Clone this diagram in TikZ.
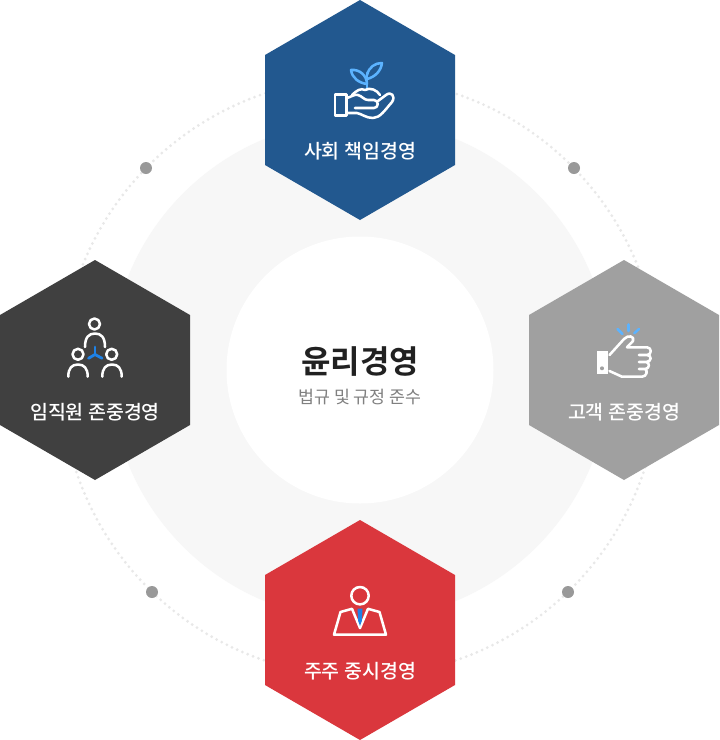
\documentclass[tikz,border=0pt]{standalone}
\usepackage{fontspec}
\setmainfont{Noto Sans CJK KR}[BoldFont={Noto Sans CJK KR Bold}]
\newfontfamily\medfont{Noto Sans CJK KR Medium}
\definecolor{hexblue}{HTML}{22588F}
\definecolor{hexdark}{HTML}{404040}
\definecolor{hexgray}{HTML}{A0A0A0}
\definecolor{hexred}{HTML}{DA373D}
\definecolor{accent}{HTML}{5CB3FF}
\definecolor{tiebl}{HTML}{1E82E6}
\tikzset{
  hexa/.style={fill=#1,draw=none},
  lab/.style={text=white,font=\medfont\fontsize{14.6}{16}\selectfont,inner sep=0pt,anchor=center},
  ico/.style={draw=white,line width=1.9pt,line join=round,line cap=round,fill=none},
  acc/.style={draw=accent,line width=1.9pt,line join=round,line cap=round,fill=none},
  bead/.style={fill=black!40,draw=none}
}
\begin{document}
\begin{tikzpicture}[x=0.75pt,y=-0.75pt]
\useasboundingbox (0,0) rectangle (720,740);
\fill[white] (0,0) rectangle (720,740);
% discs and dotted ring
\fill[black!3] (360,370) circle (250);
\draw[draw=black!9,line width=2.3pt,line cap=round,dash pattern=on 0pt off 4.3pt] (360,377) circle (299);
\fill[white] (360,370) circle (133.5);
\foreach \p in {(146,168),(574,168),(152,592),(568,592)} \fill[bead] \p circle (6);
% hexagons
\foreach \cx/\cy/\c in {360/110/hexblue,95/370/hexdark,624/370/hexgray,360/630/hexred}
  \fill[hexa=\c] (\cx,\cy-110) -- (\cx+95,\cy-55) -- (\cx+95,\cy+55) -- (\cx,\cy+110) -- (\cx-95,\cy+55) -- (\cx-95,\cy-55) -- cycle;
% centre text
\node[inner sep=0pt,text=black!87,font=\fontsize{24}{26}\bfseries\selectfont] (title) at (360,362) {윤리경영};
\node[inner sep=0pt,text=black!50,font=\fontsize{13}{16}\selectfont] (subtitle) at (360,397) {법규 및 규정 준수};
% labels
\node[lab] (top) at (360,151) {사회 책임경영};
\node[lab] (left) at (95,412) {임직원 존중경영};
\node[lab] (right) at (624,412) {고객 존중경영};
\node[lab] (bottom) at (360,671) {주주 중시경영};
% plant in hand
\draw[acc] (367,88) -- (367,73);
\draw[acc] (367,84) .. controls (367,76) and (360,69) .. (351,70) .. controls (352,78) and (359,83) .. (367,84) -- cycle;
\draw[acc] (367,75) .. controls (369,67) and (375,63) .. (382,63) .. controls (381,71) and (375,77) .. (367,79);
\draw[ico] (335,94.5) rectangle (346.5,115.5);
\draw[ico] (347,98) .. controls (351,97) and (354,94) .. (358,95) .. controls (362,96) and (364,100) .. (368,100) -- (374,100) .. controls (379,100) and (379,108) .. (374,108) -- (355,108);
\draw[ico] (352,95) .. controls (357,90) and (361,88) .. (365,90) .. controls (370,87) and (377,90) .. (380,95);
\draw[ico] (347,113) -- (357,113) .. controls (362,114) and (366,118) .. (373,118) .. controls (380,118) and (385,110) .. (392,102) .. controls (396,96) and (391,91) .. (386,95) -- (378,101);
% people
\foreach \x/\y/\r in {94.5/324/5.5,78/354.3/5.5,111.7/354.3/5.5}{
  \draw[ico] (\x,\y) circle (\r);
}
\draw[ico] (85,347) .. controls (85,337) and (89,333.5) .. (95,333.5) .. controls (101,333.5) and (105,337) .. (105,347);
\draw[ico] (68.3,376.7) .. controls (68.3,368) and (72,364.5) .. (78,364.5) .. controls (84,364.5) and (87.7,368) .. (87.7,376.7);
\draw[ico] (102.3,376.7) .. controls (102.3,368) and (106,364.5) .. (112,364.5) .. controls (118,364.5) and (121.7,368) .. (121.7,376.7);
\coordinate (hub) at (95,354.5);
\draw[draw=tiebl,line width=2.1pt,line cap=round] (hub) -- (95,347);
\draw[draw=tiebl,line width=2.1pt,line cap=round] (hub) -- (88.5,358.3);
\draw[draw=tiebl,line width=2.1pt,line cap=round] (hub) -- (102,358.3);
% thumb
\fill[white] (596.7,350.7) rectangle (608.3,374.3);
\fill[hexgray] (602,368.3) circle (2);
\draw[ico] (609.5,355) -- (624,339) .. controls (628,334.5) and (635,336) .. (633,341) -- (627,347.3) -- (647,347.3) .. controls (652,347.3) and (652,355) .. (647,355) -- (639,355) (647,355) .. controls (652,355) and (652,362) .. (646,362) -- (639,362) (646,362) .. controls (650,362) and (650,369) .. (645,369) -- (639,369) (645,369) .. controls (648,370) and (647,376.7) .. (642,376.7) -- (622,376.7) -- (609.5,371);
\draw[acc] (617.5,329) -- (622.5,334);
\draw[acc] (628.3,324.5) -- (628.3,331);
\draw[acc] (639,329) -- (634.3,333.3);
% person
\draw[ico] (360,595.7) circle (8.7);
\draw[ico] (334,634.7) -- (340.5,612) -- (352,608.8) -- (360,628) -- (368,608.8) -- (379.5,612) -- (386,634.7) -- cycle;
\fill[tiebl] (357.5,608.5) -- (362.5,608.5) -- (361.8,621) -- (360,626) -- (358.2,621) -- cycle;
\end{tikzpicture}
\end{document}
